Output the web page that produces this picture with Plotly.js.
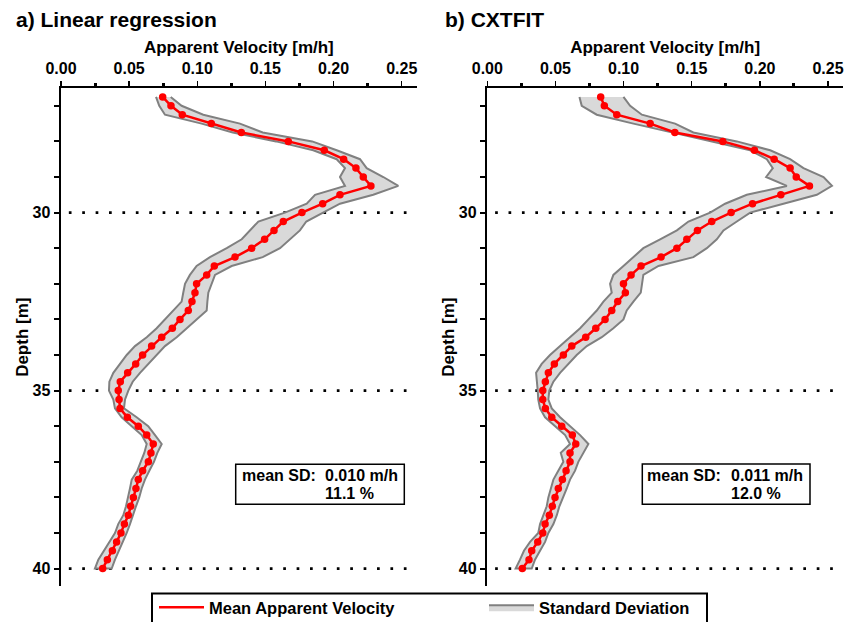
<!DOCTYPE html>
<html><head><meta charset="utf-8">
<script src="https://cdn.plot.ly/plotly-3.0.1.min.js"></script>
<style>html,body{margin:0;padding:0;background:#fff;} #chart{width:856px;height:622px;}</style>
</head><body><div id="chart"></div>
<script>
const depth = [26.75,27.00,27.25,27.50,27.75,28.00,28.25,28.50,28.75,29.00,29.25,29.50,29.75,
  30.00,30.25,30.50,30.75,31.00,31.25,31.50,31.75,32.00,32.25,32.50,32.75,33.00,33.25,33.50,33.75,
  34.00,34.25,34.50,34.75,35.00,35.25,35.50,35.75,36.00,36.25,36.50,36.75,37.00,37.25,37.50,37.75,
  38.00,38.25,38.50,38.75,39.00,39.25,39.50,39.75,40.00];

// a) Linear regression
const linMean = [0.0746,0.0807,0.0890,0.1103,0.1323,0.1668,0.1932,0.2074,0.2164,0.2218,0.2274,0.2047,0.1920,
  0.1768,0.1631,0.1563,0.1494,0.1399,0.1277,0.1125,0.1069,0.0995,0.0983,0.0961,0.0934,0.0873,0.0817,0.0739,0.0665,
  0.0599,0.0548,0.0489,0.0435,0.0420,0.0426,0.0433,0.0487,0.0567,0.0629,0.0677,0.0660,0.0641,0.0599,0.0567,0.0550,
  0.0531,0.0511,0.0494,0.0465,0.0440,0.0408,0.0377,0.0340,0.0306];
const linLower = [0.0697,0.0721,0.0763,0.1032,0.1260,0.1578,0.1851,0.2023,0.2084,0.2047,0.2084,0.1864,0.1803,
  0.1643,0.1448,0.1387,0.1326,0.1216,0.1093,0.0995,0.0946,0.0910,0.0897,0.0885,0.0824,0.0763,0.0702,0.0629,0.0543,
  0.0482,0.0433,0.0384,0.0355,0.0352,0.0384,0.0396,0.0445,0.0519,0.0592,0.0629,0.0611,0.0585,0.0560,0.0519,0.0506,
  0.0489,0.0477,0.0457,0.0420,0.0396,0.0360,0.0315,0.0274,0.0249];
const linUpper = [0.0805,0.0885,0.1044,0.1313,0.1480,0.1843,0.2023,0.2194,0.2243,0.2365,0.2475,0.2291,0.2047,
  0.1925,0.1800,0.1753,0.1680,0.1607,0.1480,0.1252,0.1130,0.1105,0.1081,0.1074,0.1069,0.0995,0.0922,0.0849,0.0763,
  0.0702,0.0640,0.0580,0.0526,0.0494,0.0470,0.0462,0.0555,0.0640,0.0690,0.0739,0.0707,0.0682,0.0648,0.0616,0.0592,
  0.0574,0.0550,0.0530,0.0506,0.0482,0.0453,0.0420,0.0396,0.0372];

// b) CXTFIT
const cxtMean = [0.0832,0.0859,0.0950,0.1195,0.1376,0.1728,0.1960,0.2105,0.2222,0.2267,0.2364,0.2154,0.1946,
  0.1789,0.1647,0.1542,0.1464,0.1391,0.1275,0.1128,0.1055,0.0999,0.1013,0.0957,0.0913,0.0864,0.0796,0.0722,0.0620,
  0.0558,0.0492,0.0448,0.0426,0.0407,0.0407,0.0426,0.0473,0.0546,0.0624,0.0649,0.0607,0.0607,0.0578,0.0551,0.0521,
  0.0497,0.0477,0.0455,0.0424,0.0407,0.0370,0.0326,0.0306,0.0257];
const cxtLower = [0.0676,0.0693,0.0803,0.1072,0.1341,0.1635,0.1929,0.2051,0.2095,0.2046,0.2198,0.1904,0.1745,
  0.1635,0.1476,0.1391,0.1268,0.1145,0.1072,0.0999,0.0925,0.0901,0.0913,0.0852,0.0803,0.0742,0.0681,0.0607,0.0534,
  0.0460,0.0399,0.0358,0.0363,0.0370,0.0374,0.0387,0.0424,0.0497,0.0571,0.0607,0.0539,0.0558,0.0521,0.0485,0.0466,
  0.0448,0.0436,0.0411,0.0387,0.0374,0.0314,0.0269,0.0240,0.0208];
const cxtUpper = [0.0999,0.1048,0.1134,0.1378,0.1512,0.1831,0.2076,0.2222,0.2320,0.2467,0.2529,0.2418,0.2173,
  0.1929,0.1831,0.1733,0.1684,0.1611,0.1512,0.1256,0.1145,0.1134,0.1126,0.1072,0.1023,0.0999,0.0925,0.0840,0.0730,
  0.0656,0.0595,0.0534,0.0485,0.0455,0.0448,0.0473,0.0534,0.0607,0.0681,0.0742,0.0705,0.0668,0.0644,0.0607,0.0583,
  0.0558,0.0529,0.0510,0.0485,0.0448,0.0424,0.0387,0.0350,0.0326];

const panelTitles = ['a) Linear regression', 'b) CXTFIT'];
const xTitle = 'Apparent Velocity [m/h]';
const yTitle = 'Depth [m]';
const seriesNames = ['Mean Apparent Velocity', 'Standard Deviation'];
const meanSDLabel = 'mean SD:';
const meanSD = ['0.010 m/h', '0.011 m/h'];
const meanPct = ['11.1 %', '12.0 %'];
const refDepths = [30, 35, 40];
const xTickVals = [0, 0.05, 0.10, 0.15, 0.20, 0.25];
const xTickText = ['0.00', '0.05', '0.10', '0.15', '0.20', '0.25'];
const xMinorVals = [0.025, 0.075, 0.125, 0.175, 0.225];
const yTickVals = [30, 35, 40];
const yTickText = ['30', '35', '40'];

const W = 856, H = 622;
const px = v => v / W;
const py = v => 1 - v / H;

function panelTraces(mean, lower, upper, xa, ya, showLeg) {
  const band = {
    x: upper.concat(lower.slice().reverse()),
    y: depth.concat(depth.slice().reverse()),
    xaxis: xa, yaxis: ya, mode: 'lines', fill: 'toself',
    fillcolor: '#d9d9d9', line: {color: '#808080', width: 2},
    name: seriesNames[1], showlegend: showLeg, legend: 'legend2', hoverinfo: 'skip'
  };
  const line = {
    x: mean, y: depth, xaxis: xa, yaxis: ya, mode: 'lines',
    line: {color: '#ff0000', width: 2.5},
    name: seriesNames[0], showlegend: showLeg, legend: 'legend'
  };
  const pts = {
    x: mean, y: depth, xaxis: xa, yaxis: ya, mode: 'markers',
    marker: {color: '#ff0000', size: 7.5},
    name: seriesNames[0], showlegend: false
  };
  return [band, line, pts];
}

const data = panelTraces(linMean, linLower, linUpper, 'x', 'y', true)
  .concat(panelTraces(cxtMean, cxtLower, cxtUpper, 'x2', 'y2', false));

const yDom = [py(586.4), py(88)];
function xAxis(dom, anchor) {
  return {
    domain: dom, range: [0, 0.261], side: 'top', anchor: anchor,
    tickmode: 'array', tickvals: xTickVals, ticktext: xTickText,
    ticks: 'outside', ticklen: 5, tickwidth: 1.5, tickcolor: '#000',
    minor: {tickmode: 'array', tickvals: xMinorVals, ticks: 'outside', ticklen: 3, tickwidth: 3, tickcolor: '#000'},
    showline: true, linewidth: 2.5, linecolor: '#000', showgrid: false, zeroline: false,
    tickfont: {size: 16}, fixedrange: true,
    title: {text: xTitle, font: {size: 17}, standoff: 2}
  };
}
function yAxis(anchor) {
  return {
    domain: yDom, range: [40.5, 26.5], anchor: anchor,
    tickmode: 'array', tickvals: yTickVals, ticktext: yTickText,
    ticks: 'outside', ticklen: 5, tickwidth: 1.5, tickcolor: '#000',
    minor: {dtick: 1, tick0: 0, ticks: 'outside', ticklen: 5, tickwidth: 2, tickcolor: '#000'},
    showline: true, linewidth: 2.5, linecolor: '#000', showgrid: false, zeroline: false,
    tickfont: {size: 16}, fixedrange: true,
    title: {text: yTitle, font: {size: 17}, standoff: 0}
  };
}

const shapes = [];
const annotations = [];
[['x', 'y'], ['x2', 'y2']].forEach(([xr, yr]) => {
  refDepths.forEach(d => {
    shapes.push({type: 'line', xref: xr + ' domain', yref: yr, x0: 0.022, x1: 1, y0: d, y1: d,
      line: {color: '#000', width: 2.7, dash: '2.7px,10.7px'}, layer: 'below'});
  });
});
// info boxes
const boxes = [
  {x0: 235.7, x1: 404.3, y0: 464.3, y1: 504.3, lab: 240, val: 323},
  {x0: 642.3, x1: 810, y0: 464, y1: 504.3, lab: 645, val: 729}
];
boxes.forEach((b, i) => {
  shapes.push({type: 'rect', xref: 'paper', yref: 'paper', x0: px(b.x0), x1: px(b.x1), y0: py(b.y1), y1: py(b.y0),
    line: {color: '#000', width: 1.5}, fillcolor: 'rgba(0,0,0,0)'});
  annotations.push({xref: 'paper', yref: 'paper', x: px(b.lab), y: py(475), xanchor: 'left', yanchor: 'middle',
    text: meanSDLabel, showarrow: false, font: {size: 16}});
  annotations.push({xref: 'paper', yref: 'paper', x: px(b.val), y: py(475), xanchor: 'left', yanchor: 'middle',
    text: meanSD[i], showarrow: false, font: {size: 16}});
  annotations.push({xref: 'paper', yref: 'paper', x: px(b.val), y: py(494), xanchor: 'left', yanchor: 'middle',
    text: meanPct[i], showarrow: false, font: {size: 16}});
});
// panel titles
[14, 443].forEach((x, i) => {
  annotations.push({xref: 'paper', yref: 'paper', x: px(x), y: py(19), xanchor: 'left', yanchor: 'middle',
    text: panelTitles[i], showarrow: false, font: {size: 21}});
});
// legend frame
shapes.push({type: 'rect', xref: 'paper', yref: 'paper', x0: px(152), x1: px(707), y0: py(640), y1: py(593.5),
  line: {color: '#000', width: 2}, fillcolor: '#fff', layer: 'below'});

const legendCommon = {orientation: 'h', yanchor: 'top', xanchor: 'left', borderwidth: 0,
  bgcolor: 'rgba(0,0,0,0)', font: {size: 16.5}, itemwidth: 45};

const layout = {
  width: W, height: H,
  margin: {l: 0, r: 0, t: 0, b: 0, pad: 0, autoexpand: false},
  paper_bgcolor: '#fff', plot_bgcolor: 'rgba(0,0,0,0)',
  font: {family: 'Liberation Sans, Arial, sans-serif', size: 15, color: '#000', weight: 'bold'},
  xaxis: xAxis([px(61), px(416.7)], 'y'), yaxis: yAxis('x'),
  xaxis2: xAxis([px(487.3), px(843)], 'y2'), yaxis2: yAxis('x2'),
  shapes: shapes, annotations: annotations,
  showlegend: true,
  legend: Object.assign({}, legendCommon, {x: px(154), y: py(590)}),
  legend2: Object.assign({}, legendCommon, {x: px(484), y: py(590)})
};

Plotly.newPlot('chart', data, layout, {displayModeBar: false, staticPlot: true});
</script>
</body></html>
